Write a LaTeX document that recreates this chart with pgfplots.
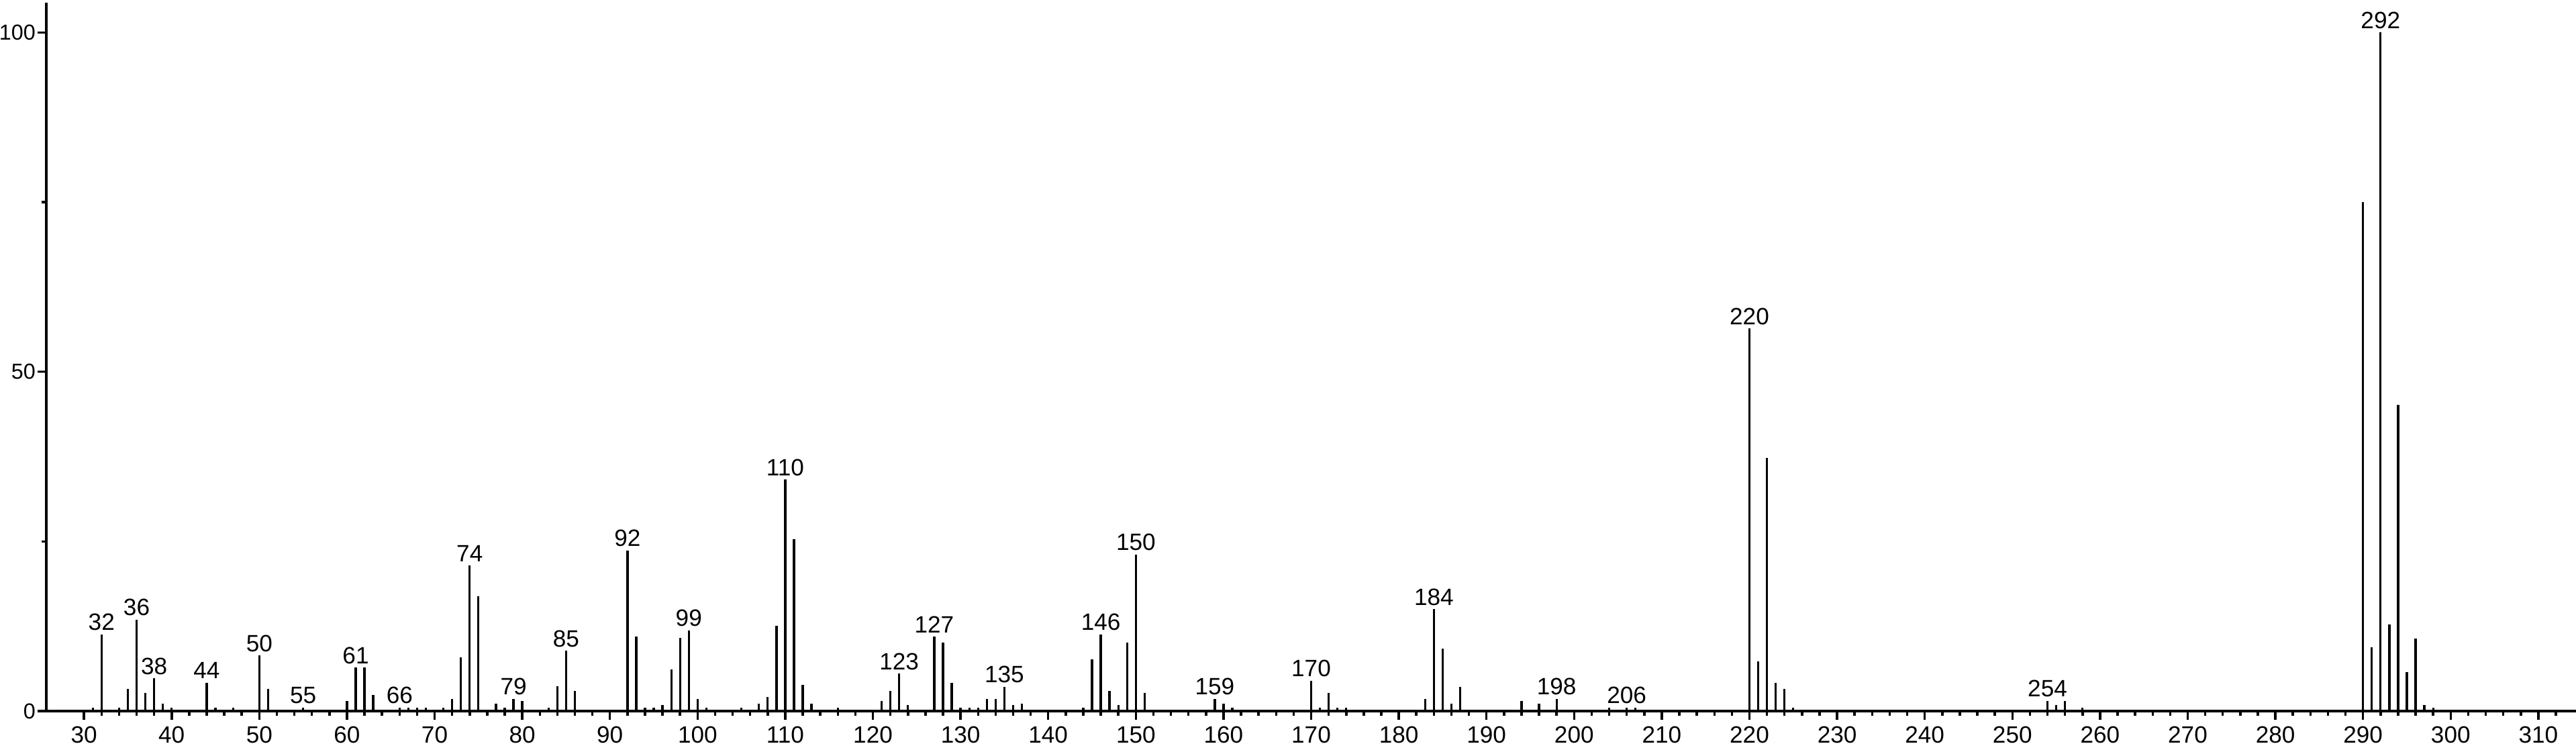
\documentclass[border=0pt]{standalone}
\usepackage{fontspec}
\setmainfont{Liberation Sans}
\usepackage{pgfplots}
\pgfplotsset{compat=1.18}
\begin{document}
\begin{tikzpicture}
\begin{axis}[
  scale only axis, width=376.9mm, height=105.5mm,
  xmin=25.7, xmax=314.3, ymin=0, ymax=104.4,
  axis lines=left, axis line style={-, line width=0.35mm},
  xtick={30,40,...,310}, minor xtick={32,34,...,312},
  ytick={0,50,100}, minor ytick={25,75},
  tick align=outside, tick pos=left,
  major tick length=1.25mm, minor tick length=0.7mm,
  every tick/.style={line width=0.35mm, black},
  /pgf/number format/assume math mode=true,
  tick label style={font=\fontsize{10}{12}\selectfont},
  yticklabel style={font=\fontsize{9.2}{11}\selectfont, inner xsep=0pt, xshift=-0.3mm},
  xticklabel style={inner ysep=0pt, yshift=-1.0mm},
  clip=false,
]
\addplot[ycomb, line width=0.33mm, black, mark=none] coordinates {
(31,0.5)(32,11.3)(34,0.5)(35,3.3)(36,13.5)(37,2.7)(38,4.8)(39,1.1)(40,0.5)
(44,4.2)(45,0.5)(47,0.5)(50,8.2)(51,3.3)(55,0.5)(60,1.5)(61,6.4)(62,6.4)(63,2.4)
(66,0.5)(67,0.5)(68,0.5)(69,0.5)(71,0.5)(72,1.8)(73,7.9)(74,21.5)(75,16.9)
(77,1.1)(78,0.5)(79,1.8)(80,1.5)(83,0.5)(84,3.65)(85,8.9)(86,3.0)
(92,23.7)(93,11.0)(94,0.5)(95,0.5)(96,0.85)(97,6.1)(98,10.8)(99,11.9)(100,1.8)(101,0.5)
(105,0.5)(107,1.1)(108,2.1)(109,12.6)(110,34.1)(111,25.3)(112,3.9)(113,1.1)(116,0.5)
(121,1.5)(122,3.0)(123,5.5)(124,0.85)(127,11.0)(128,10.1)(129,4.2)(130,0.5)(131,0.5)(132,0.5)
(133,1.8)(134,1.8)(135,3.6)(136,0.85)(137,1.1)(144,0.5)(145,7.6)(146,11.3)(147,3.0)(148,0.85)
(149,10.1)(150,23.1)(151,2.7)(159,1.8)(160,1.1)(161,0.5)(170,4.5)(171,0.5)(172,2.7)(173,0.5)(174,0.5)
(183,1.8)(184,15.0)(185,9.2)(186,1.1)(187,3.6)(194,1.5)(196,1.1)(198,1.8)(204,0.5)(206,0.5)(207,0.5)
(220,56.4)(221,7.3)(222,37.3)(223,4.2)(224,3.3)(225,0.5)(254,1.5)(255,0.85)(256,1.5)(258,0.5)
(290,75.0)(291,9.4)(292,100)(293,12.8)(294,45.1)(295,5.7)(296,10.7)(297,0.85)(298,0.45)
};
\addplot[draw=none, mark=none, point meta=explicit symbolic,
  nodes near coords,
  every node near coord/.style={font=\fontsize{10}{12}\selectfont, anchor=south, inner xsep=0pt, inner ysep=0.5mm}]
 coordinates {
(32,11.3)[32](36,13.5)[36](38,4.8)[38](44,4.2)[44](50,8.2)[50](55,0.5)[55](61,6.4)[61](66,0.5)[66]
(74,21.5)[74](79,1.8)[79](85,8.9)[85](92,23.7)[92](99,11.9)[99](110,34.1)[110](123,5.5)[123]
(127,11.0)[127](135,3.6)[135](146,11.3)[146](150,23.1)[150](159,1.8)[159](170,4.5)[170]
(184,15.0)[184](198,1.8)[198](206,0.5)[206](220,56.4)[220](254,1.5)[254](292,100)[292]
};
\end{axis}
\pgfresetboundingbox
\path[use as bounding box] (-6.9mm,-5.5mm) rectangle (376.9mm,105.9mm);
\end{tikzpicture}
\end{document}
